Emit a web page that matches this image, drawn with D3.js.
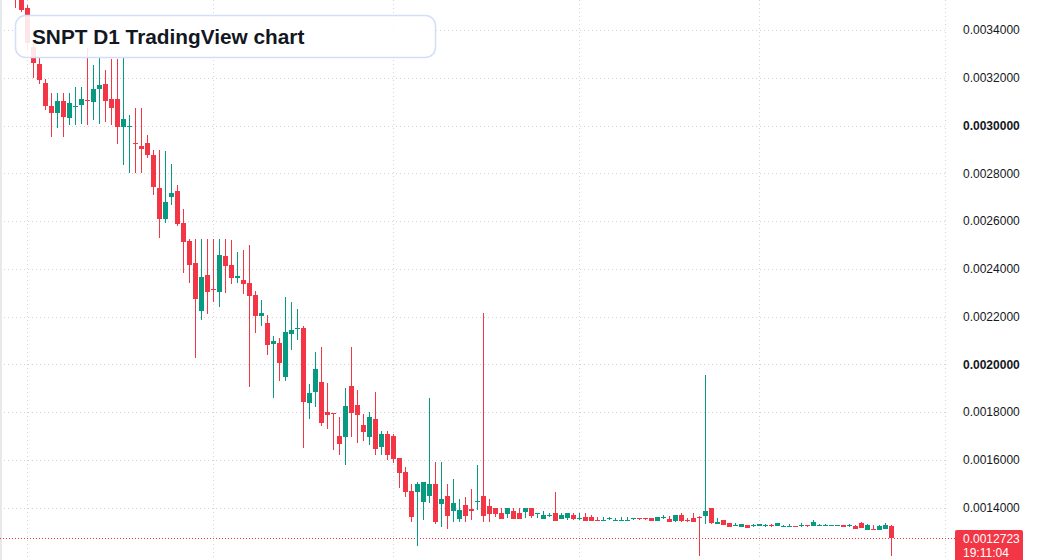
<!DOCTYPE html>
<html>
<head>
<meta charset="utf-8">
<script src="https://cdn.jsdelivr.net/npm/d3@7"></script>
<style>
  body { margin: 0; background: #fff; font-family: "Liberation Sans", Arial, sans-serif; }
</style>
</head>
<body>
<svg class="svg-main" width="1037" height="560"></svg>
<script>
// daily candles, first one on startDay
const startDay = "2024-07-30";

const open = [
  0.003600, 0.003530, 0.003492, 0.003329, 0.003258, 0.003178, 0.003082, 0.003053, 0.003103, 0.003032,
  0.003076, 0.003086, 0.003109, 0.003099, 0.003153, 0.003174, 0.003111, 0.003111, 0.002994, 0.002996,
  0.002925, 0.002914, 0.002927, 0.002877, 0.002739, 0.002609, 0.002701, 0.002726, 0.002592, 0.002517,
  0.002425, 0.002224, 0.002374, 0.002314, 0.002303, 0.002454, 0.002416, 0.002362, 0.002354, 0.002341,
  0.002291, 0.002203, 0.002174, 0.002086, 0.002090, 0.001948, 0.002128, 0.002151, 0.002153, 0.001839,
  0.001885, 0.001927, 0.001801, 0.001797, 0.001701, 0.001696, 0.001910, 0.001830, 0.001747, 0.001696,
  0.001772, 0.001654, 0.001709, 0.001701, 0.001608, 0.001550, 0.001470, 0.001466, 0.001424, 0.001450,
  0.001500, 0.001416, 0.001450, 0.001387, 0.001353, 0.001412, 0.001395, 0.001424, 0.001450, 0.001408,
  0.001399, 0.001378, 0.001374, 0.001387, 0.001378, 0.001382, 0.001399, 0.001376, 0.001353, 0.001367,
  0.001378, 0.001353, 0.001357, 0.001370, 0.001355, 0.001361, 0.001361, 0.001351, 0.001349, 0.001355,
  0.001349, 0.001349, 0.001349, 0.001355, 0.001357, 0.001357, 0.001357, 0.001345, 0.001359, 0.001353,
  0.001345, 0.001370, 0.001349, 0.001357, 0.001361, 0.001366, 0.001399, 0.001332, 0.001349, 0.001336,
  0.001326, 0.001320, 0.001328, 0.001324, 0.001324, 0.001326, 0.001328, 0.001324, 0.001323, 0.001323,
  0.001325, 0.001327, 0.001330, 0.001324, 0.001326, 0.001326, 0.001326, 0.001326, 0.001328, 0.001326,
  0.001324, 0.001336, 0.001307, 0.001313, 0.001307, 0.001311, 0.001324
];

const high = [
  0.003620, 0.003545, 0.003505, 0.003358, 0.003283, 0.003195, 0.003136, 0.003136, 0.003136, 0.003136,
  0.003161, 0.003161, 0.003325, 0.003254, 0.003283, 0.003233, 0.003279, 0.003279, 0.003283, 0.003044,
  0.003074, 0.003074, 0.002961, 0.002898, 0.002898, 0.002894, 0.002839, 0.002751, 0.002651, 0.002525,
  0.002525, 0.002525, 0.002525, 0.002525, 0.002525, 0.002525, 0.002521, 0.002471, 0.002479, 0.002500,
  0.002308, 0.002270, 0.002207, 0.002119, 0.002111, 0.002282, 0.002261, 0.002232, 0.002161, 0.001918,
  0.002052, 0.002073, 0.001922, 0.001797, 0.001780, 0.001901, 0.002073, 0.001893, 0.001793, 0.001801,
  0.001885, 0.001721, 0.001721, 0.001709, 0.001608, 0.001571, 0.001500, 0.001508, 0.001508, 0.001860,
  0.001592, 0.001592, 0.001500, 0.001520, 0.001437, 0.001445, 0.001479, 0.001579, 0.002215, 0.001437,
  0.001399, 0.001399, 0.001399, 0.001399, 0.001399, 0.001399, 0.001399, 0.001378, 0.001387, 0.001378,
  0.001466, 0.001378, 0.001378, 0.001378, 0.001378, 0.001378, 0.001370, 0.001361, 0.001361, 0.001361,
  0.001357, 0.001361, 0.001361, 0.001357, 0.001357, 0.001357, 0.001357, 0.001361, 0.001370, 0.001366,
  0.001370, 0.001378, 0.001357, 0.001378, 0.001366, 0.001956, 0.001399, 0.001357, 0.001349, 0.001336,
  0.001336, 0.001332, 0.001328, 0.001332, 0.001332, 0.001332, 0.001332, 0.001336, 0.001328, 0.001332,
  0.001325, 0.001336, 0.001330, 0.001349, 0.001332, 0.001332, 0.001330, 0.001330, 0.001328, 0.001332,
  0.001328, 0.001340, 0.001332, 0.001328, 0.001326, 0.001336, 0.001328
];

const low = [
  0.003492, 0.003475, 0.003316, 0.003199, 0.003174, 0.003065, 0.002952, 0.002990, 0.002952, 0.003002,
  0.003002, 0.003007, 0.003002, 0.003023, 0.003007, 0.003015, 0.003002, 0.002923, 0.002835, 0.002801,
  0.002801, 0.002801, 0.002864, 0.002709, 0.002529, 0.002592, 0.002667, 0.002580, 0.002383, 0.002341,
  0.002027, 0.002186, 0.002211, 0.002261, 0.002241, 0.002299, 0.002337, 0.002341, 0.002295, 0.001906,
  0.002132, 0.002161, 0.002040, 0.001860, 0.001931, 0.001931, 0.002061, 0.002102, 0.001650, 0.001772,
  0.001822, 0.001742, 0.001730, 0.001642, 0.001621, 0.001579, 0.001696, 0.001671, 0.001680, 0.001663,
  0.001621, 0.001621, 0.001600, 0.001588, 0.001483, 0.001445, 0.001340, 0.001240, 0.001349, 0.001420,
  0.001332, 0.001320, 0.001311, 0.001340, 0.001340, 0.001340, 0.001349, 0.001391, 0.001340, 0.001340,
  0.001361, 0.001353, 0.001357, 0.001353, 0.001353, 0.001357, 0.001357, 0.001357, 0.001353, 0.001361,
  0.001345, 0.001353, 0.001349, 0.001349, 0.001349, 0.001345, 0.001345, 0.001349, 0.001349, 0.001349,
  0.001349, 0.001349, 0.001349, 0.001349, 0.001349, 0.001349, 0.001345, 0.001345, 0.001353, 0.001340,
  0.001340, 0.001340, 0.001340, 0.001340, 0.001198, 0.001332, 0.001332, 0.001332, 0.001328, 0.001320,
  0.001324, 0.001320, 0.001315, 0.001320, 0.001324, 0.001320, 0.001320, 0.001324, 0.001320, 0.001320,
  0.001320, 0.001320, 0.001320, 0.001324, 0.001324, 0.001324, 0.001326, 0.001326, 0.001320, 0.001320,
  0.001311, 0.001315, 0.001307, 0.001307, 0.001307, 0.001311, 0.001198
];

const close = [
  0.003530, 0.003484, 0.003346, 0.003262, 0.003191, 0.003082, 0.003053, 0.003103, 0.003036, 0.003094,
  0.003080, 0.003111, 0.003105, 0.003153, 0.003170, 0.003103, 0.003074, 0.002994, 0.003027, 0.002999,
  0.002921, 0.002902, 0.002877, 0.002743, 0.002609, 0.002680, 0.002718, 0.002588, 0.002513, 0.002416,
  0.002274, 0.002366, 0.002303, 0.002310, 0.002458, 0.002412, 0.002362, 0.002370, 0.002337, 0.002287,
  0.002203, 0.002215, 0.002081, 0.002098, 0.002006, 0.002136, 0.002144, 0.002154, 0.001843, 0.001881,
  0.001981, 0.001755, 0.001788, 0.001792, 0.001667, 0.001826, 0.001797, 0.001788, 0.001717, 0.001780,
  0.001646, 0.001709, 0.001621, 0.001604, 0.001546, 0.001466, 0.001361, 0.001500, 0.001508, 0.001500,
  0.001340, 0.001437, 0.001366, 0.001420, 0.001391, 0.001366, 0.001387, 0.001428, 0.001366, 0.001374,
  0.001374, 0.001353, 0.001399, 0.001353, 0.001353, 0.001399, 0.001366, 0.001378, 0.001370, 0.001369,
  0.001345, 0.001370, 0.001378, 0.001353, 0.001357, 0.001345, 0.001345, 0.001349, 0.001351, 0.001357,
  0.001351, 0.001351, 0.001351, 0.001357, 0.001355, 0.001355, 0.001345, 0.001361, 0.001361, 0.001340,
  0.001370, 0.001345, 0.001347, 0.001340, 0.001359, 0.001387, 0.001336, 0.001340, 0.001328, 0.001320,
  0.001328, 0.001332, 0.001315, 0.001326, 0.001332, 0.001328, 0.001326, 0.001336, 0.001325, 0.001325,
  0.001323, 0.001329, 0.001328, 0.001340, 0.001328, 0.001328, 0.001328, 0.001328, 0.001320, 0.001328,
  0.001311, 0.001315, 0.001328, 0.001311, 0.001324, 0.001328, 0.0012723
];

const priceTicks = [0.0014, 0.0016, 0.0018, 0.0020, 0.0022, 0.0024, 0.0026, 0.0028, 0.0030, 0.0032, 0.0034];
const boldTicks = [0.0020, 0.0030];
const lastPrice = 0.0012723;
const countdown = "19:11:04";
const title = "SNPT D1 TradingView chart";

const UP = "#089981";
const DOWN = "#f23645";
const GRID = "#d1d4dc";

const svg = d3.select(".svg-main");
const width = Number(svg.attr("width"));
const height = Number(svg.attr("height"));
const plotRight = 945;

const t0 = d3.utcParse("%Y-%m-%d")(startDay);
const candles = open.map((o, i) => ({
  date: d3.utcDay.offset(t0, i),
  o: o, h: high[i], l: low[i], c: close[i]
}));

// 6px per day, first candle ~15px from the left edge
const x = d3.scaleUtc()
  .domain([d3.utcHour.offset(t0, -61), d3.utcHour.offset(t0, 3719)])
  .range([0, plotRight]);

const y = d3.scaleLinear()
  .domain([0.0014, 0.0034])
  .range([507.8, 30]);

const snap = (v) => Math.round(v) + 0.5;

// grid
const grid = svg.append("g").attr("class", "grid");

grid.selectAll("line.h")
  .data(priceTicks)
  .enter().append("line")
    .attr("class", "h")
    .attr("x1", 0)
    .attr("x2", plotRight)
    .attr("y1", (d) => snap(y(d)))
    .attr("y2", (d) => snap(y(d)))
    .attr("stroke", GRID)
    .attr("stroke-dasharray", "1,3");

const months = d3.utcMonth.range(x.domain()[0], x.domain()[1]);
grid.selectAll("line.v")
  .data(months)
  .enter().append("line")
    .attr("class", "v")
    .attr("x1", (d) => snap(x(d)))
    .attr("x2", (d) => snap(x(d)))
    .attr("y1", 0)
    .attr("y2", height)
    .attr("stroke", GRID)
    .attr("stroke-dasharray", "1,3");

// price scale border
grid.append("line")
  .attr("x1", plotRight + 0.5)
  .attr("x2", plotRight + 0.5)
  .attr("y1", 0)
  .attr("y2", height)
  .attr("stroke", GRID)
  .attr("stroke-dasharray", "1,3");

svg.append("rect")
  .attr("x", 0).attr("y", 0)
  .attr("width", 2).attr("height", height)
  .attr("fill", "#e6e8ec");

// last price line
svg.append("line")
  .attr("x1", 0)
  .attr("x2", 955)
  .attr("y1", snap(y(lastPrice)))
  .attr("y2", snap(y(lastPrice)))
  .attr("stroke", DOWN)
  .attr("stroke-dasharray", "1,2");

// candles
const candle = svg.append("g")
  .attr("class", "candles")
  .selectAll("g")
  .data(candles)
  .enter().append("g")
    .attr("fill", (d) => d.c >= d.o ? UP : DOWN)
    .attr("stroke", (d) => d.c >= d.o ? UP : DOWN);

candle.append("line")
  .attr("x1", (d) => snap(x(d.date)))
  .attr("x2", (d) => snap(x(d.date)))
  .attr("y1", (d) => Math.round(y(d.h)))
  .attr("y2", (d) => Math.round(y(d.l)))
  .attr("stroke-width", 1);

candle.append("rect")
  .attr("x", (d) => Math.round(x(d.date)) - 2)
  .attr("width", 5)
  .attr("y", (d) => Math.round(y(Math.max(d.o, d.c))))
  .attr("height", (d) => Math.max(1, Math.round(y(Math.min(d.o, d.c))) - Math.round(y(Math.max(d.o, d.c)))))
  .attr("stroke", "none");

// title box
svg.append("rect")
  .attr("x", 15.5)
  .attr("y", 15.5)
  .attr("width", 420)
  .attr("height", 42)
  .attr("rx", 10)
  .attr("fill", "rgba(255,255,255,0.88)")
  .attr("stroke", "#d2dff6")
  .attr("stroke-width", 1.5);

svg.append("text")
  .attr("x", 32)
  .attr("y", 44)
  .attr("font-size", 20.8)
  .attr("font-weight", "bold")
  .attr("fill", "#131722")
  .text(title);

// price axis
const fmt = d3.format(".7f");
svg.append("g")
  .attr("class", "price-axis")
  .selectAll("text")
  .data(priceTicks)
  .enter().append("text")
    .attr("x", 963)
    .attr("y", (d) => y(d))
    .attr("dy", "0.35em")
    .attr("font-size", 12)
    .attr("font-weight", (d) => boldTicks.includes(d) ? "bold" : "normal")
    .attr("fill", "#131722")
    .text((d) => fmt(d));

// last price label
const ly = y(lastPrice);
svg.append("rect")
  .attr("x", 955)
  .attr("y", Math.round(ly) - 8)
  .attr("width", 68)
  .attr("height", 34)
  .attr("rx", 2)
  .attr("fill", DOWN);

svg.append("text")
  .attr("x", 963)
  .attr("y", ly + 4.5)
  .attr("font-size", 12)
  .attr("fill", "#fff")
  .text(fmt(lastPrice));

svg.append("text")
  .attr("x", 963)
  .attr("y", ly + 18.5)
  .attr("font-size", 12)
  .attr("fill", "#fff")
  .text(countdown);
</script>
</body>
</html>
